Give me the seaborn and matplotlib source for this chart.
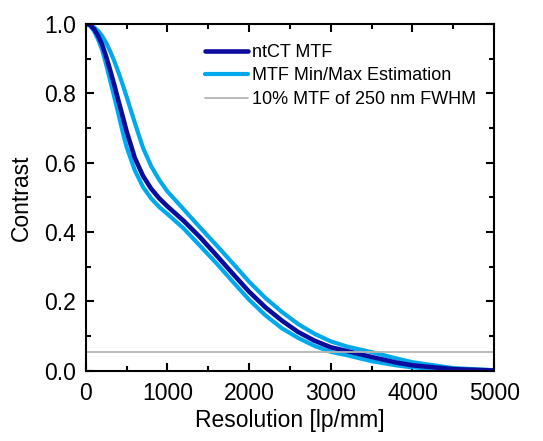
import matplotlib
matplotlib.use("Agg")
import matplotlib.pyplot as plt
import seaborn as sns
import pandas as pd
from matplotlib.ticker import MultipleLocator

# resolution in lp/mm
resolution = [0, 50, 100, 150, 200, 250, 300, 350, 400, 450, 500, 600, 700, 800, 900, 1000,
              1200, 1400, 1600, 1800, 2000, 2200, 2400, 2600, 2800, 3000, 3200, 3500, 3800,
              4000, 4500, 5000]
mtf_main = [1.0, 0.997, 0.985, 0.966, 0.94, 0.905, 0.865, 0.823, 0.778, 0.735, 0.69, 0.614,
            0.562, 0.525, 0.497, 0.474, 0.432, 0.385, 0.333, 0.28, 0.228, 0.183, 0.145, 0.112,
            0.087, 0.068, 0.057, 0.04, 0.024, 0.016, 0.005, 0.001]
mtf_max = [1.0, 0.998, 0.99, 0.98, 0.965, 0.945, 0.92, 0.892, 0.86, 0.826, 0.79, 0.715,
           0.643, 0.59, 0.55, 0.517, 0.465, 0.413, 0.362, 0.31, 0.257, 0.21, 0.17, 0.135,
           0.107, 0.085, 0.07, 0.054, 0.036, 0.025, 0.008, 0.002]
mtf_min = [1.0, 0.995, 0.98, 0.955, 0.925, 0.882, 0.835, 0.788, 0.74, 0.69, 0.645, 0.578,
           0.53, 0.497, 0.472, 0.452, 0.41, 0.36, 0.31, 0.257, 0.205, 0.16, 0.123, 0.095,
           0.072, 0.055, 0.045, 0.028, 0.016, 0.01, 0.003, 0.001]
threshold = 0.055

df = pd.DataFrame({"Resolution": resolution, "Main": mtf_main, "Max": mtf_max, "Min": mtf_min})

sns.set_style("ticks")
plt.rcParams['font.family'] = ['Liberation Sans', 'DejaVu Sans']
plt.rcParams.update({"text.color": "black", "axes.labelcolor": "black",
                     "xtick.color": "black", "ytick.color": "black"})

fig = plt.figure(figsize=(5.43, 4.41), dpi=100)
ax = fig.add_axes([0.158, 0.159, 0.752, 0.787])

dark = "#0b0c9e"
light = "#00a9ec"

sns.lineplot(data=df, x="Resolution", y="Max", color=light, lw=3, ax=ax, label="MTF Min/Max Estimation")
sns.lineplot(data=df, x="Resolution", y="Min", color=light, lw=3, ax=ax)
sns.lineplot(data=df, x="Resolution", y="Main", color=dark, lw=3.3, ax=ax, label="ntCT MTF")
ax.axhline(threshold, color="#b4b4b4", lw=1.3, label="10% MTF of 250 nm FWHM")
for ln in ax.get_lines():
    ln.set_solid_joinstyle("round")

handles, labels = ax.get_legend_handles_labels()
order = [labels.index("ntCT MTF"), labels.index("MTF Min/Max Estimation"),
         labels.index("10% MTF of 250 nm FWHM")]
ax.legend([handles[i] for i in order], [labels[i] for i in order], frameon=False,
          loc="upper left", bbox_to_anchor=(0.274, 0.963), borderaxespad=0, fontsize=13,
          handlelength=2.4, handletextpad=0.2, labelspacing=0.36)

ax.set_xlim(0, 5000)
ax.set_ylim(0, 1.0)
ax.xaxis.set_major_locator(MultipleLocator(1000))
ax.xaxis.set_minor_locator(MultipleLocator(500))
ax.yaxis.set_major_locator(MultipleLocator(0.2))
ax.yaxis.set_minor_locator(MultipleLocator(0.1))
ax.yaxis.set_major_formatter(plt.FuncFormatter(lambda v, p: f"{v:.1f}"))
ax.tick_params(which="both", direction="in", top=True, right=True, width=1.5, labelsize=16.5)
ax.tick_params(which="major", length=6)
ax.tick_params(axis="y", which="major", pad=7)
ax.tick_params(axis="x", which="major", pad=8)
ax.tick_params(which="minor", length=3.5)
for s in ax.spines.values():
    s.set_linewidth(1.5)
    s.set_color("black")

ax.set_xlabel("Resolution [lp/mm]", fontsize=16.5, labelpad=3)
ax.set_ylabel("Contrast", fontsize=16.5, labelpad=8)

fig.savefig("out.png", dpi=100)
